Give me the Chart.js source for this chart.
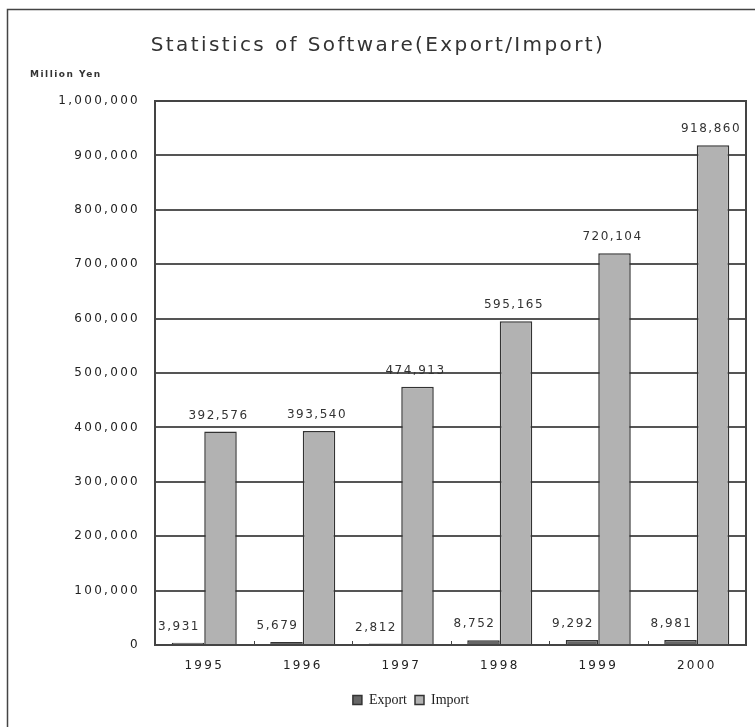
<!DOCTYPE html>
<html>
<head>
<meta charset="utf-8">
<script src="https://cdn.jsdelivr.net/npm/chart.js@4"></script>
<style>
  html, body { margin: 0; padding: 0; background: #fff; }
  #wrap { width: 755px; height: 727px; position: relative; }
</style>
</head>
<body>
<div id="wrap"><canvas id="c" width="755" height="727"></canvas></div>
<script>
const categories = ['1995', '1996', '1997', '1998', '1999', '2000'];
const exportValues = [3931, 5679, 2812, 8752, 9292, 8981];
const importValues = [392576, 393540, 474913, 595165, 720104, 918860];
const yTicks = [0, 100000, 200000, 300000, 400000, 500000, 600000, 700000, 800000, 900000, 1000000];
const titleText = 'Statistics of Software(Export/Import)';
const unitText = 'Million Yen';
const seriesNames = ['Export', 'Import'];

const SPACING = '2.3px';

function wrapWithSpacing(obj, method, spacing, dx) {
  if (!obj || obj['_w_' + method]) return;
  const orig = obj[method];
  obj[method] = function (...args) {
    const ctx = this.ctx || this.chart.ctx;
    const prev = ctx.letterSpacing;
    ctx.save();
    ctx.letterSpacing = spacing;
    if (dx) ctx.translate(dx, 0);
    const r = orig.apply(this, args);
    ctx.restore();
    ctx.letterSpacing = prev;
    return r;
  };
  obj['_w_' + method] = true;
}

const framePlugin = {
  id: 'frame',
  beforeInit(chart) { chart.ctx.letterSpacing = SPACING; },
  beforeUpdate(chart) {
    chart.ctx.letterSpacing = SPACING;
    wrapWithSpacing(chart.legend, 'fit', '0px', 0);
    wrapWithSpacing(chart.legend, 'draw', '0px', 38);
    wrapWithSpacing(chart.titleBlock, 'draw', '2.4px', 5);
  },
  beforeDraw(chart) {
    const ctx = chart.ctx;
    ctx.letterSpacing = SPACING;
    ctx.save();
    ctx.strokeStyle = '#444';
    ctx.lineWidth = 1.5;
    ctx.beginPath();
    ctx.moveTo(7.5, 727);
    ctx.lineTo(7.5, 9.5);
    ctx.lineTo(755, 9.5);
    ctx.stroke();
    ctx.restore();
  },
  beforeDatasetsDraw(chart) {
    const a = chart.chartArea, ctx = chart.ctx;
    ctx.save();
    ctx.strokeStyle = '#444';
    ctx.lineWidth = 2;
    ctx.strokeRect(a.left, a.top, a.right - a.left, a.bottom - a.top);
    const xs = chart.scales.x;
    ctx.lineWidth = 1;
    for (let i = 1; i < categories.length; i++) {
      const x = Math.round((xs.getPixelForTick(i - 1) + xs.getPixelForTick(i)) / 2) + 0.5;
      ctx.beginPath();
      ctx.moveTo(x, a.bottom);
      ctx.lineTo(x, a.bottom - 4);
      ctx.stroke();
    }
    ctx.restore();
    ctx.save();
    ctx.letterSpacing = '1.5px';
    ctx.font = 'bold 9px "DejaVu Sans"';
    ctx.fillStyle = '#333';
    ctx.textAlign = 'left';
    ctx.textBaseline = 'middle';
    ctx.fillText(unitText, 30, 75);
    ctx.restore();
  },
  afterDatasetsDraw(chart) {
    const ctx = chart.ctx;
    ctx.save();
    ctx.letterSpacing = '1.5px';
    ctx.font = '12px "DejaVu Sans"';
    ctx.fillStyle = '#333';
    ctx.textAlign = 'center';
    ctx.textBaseline = 'middle';
    chart.data.datasets.forEach((ds, di) => {
      const meta = chart.getDatasetMeta(di);
      const shift = di === 0 ? -9 : -2;
      meta.data.forEach((el, i) => {
        ctx.fillText(ds.data[i].toLocaleString('en-US'), el.x + shift, el.y - 16);
      });
    });
    ctx.restore();
  }
};

new Chart(document.getElementById('c'), {
  type: 'bar',
  data: {
    labels: categories,
    datasets: [
      {
        label: seriesNames[0],
        data: exportValues,
        backgroundColor: '#666666',
        borderColor: '#333333',
        borderWidth: 1.5,
        categoryPercentage: 0.66,
        barPercentage: 1.0
      },
      {
        label: seriesNames[1],
        data: importValues,
        backgroundColor: '#b2b2b2',
        borderColor: '#333333',
        borderWidth: 1.5,
        categoryPercentage: 0.66,
        barPercentage: 1.0
      }
    ]
  },
  options: {
    responsive: false,
    animation: false,
    devicePixelRatio: 1,
    layout: { padding: { left: 0, right: 9, top: 0, bottom: 10 } },
    plugins: {
      title: {
        display: true,
        text: titleText,
        color: '#333',
        font: { family: '"DejaVu Sans"', size: 20, weight: 'normal' },
        padding: { top: 34, bottom: 43 }
      },
      legend: {
        display: true,
        position: 'bottom',
        labels: {
          boxWidth: 9,
          boxHeight: 9,
          color: '#222',
          font: { family: '"Liberation Serif"', size: 14 },
          padding: 8
        }
      },
      tooltip: { enabled: false }
    },
    scales: {
      x: {
        grid: { display: false, drawTicks: false },
        border: { display: true, color: '#444', width: 2 },
        ticks: {
          color: '#222',
          font: { family: '"DejaVu Sans"', size: 12 },
          padding: 14
        },
        afterFit(scale) { scale.height = 40; }
      },
      y: {
        min: 0,
        max: 1000000,
        afterBuildTicks(scale) { scale.ticks = yTicks.map(v => ({ value: v })); },
        grid: { color: '#555', lineWidth: 2, drawTicks: false },
        border: { display: true, color: '#444', width: 2 },
        ticks: {
          color: '#222',
          font: { family: '"DejaVu Sans"', size: 12 },
          padding: 15,
          callback: v => v.toLocaleString('en-US')
        },
        afterFit(scale) { scale.width = 155; }
      }
    }
  },
  plugins: [framePlugin]
});
</script>
</body>
</html>
